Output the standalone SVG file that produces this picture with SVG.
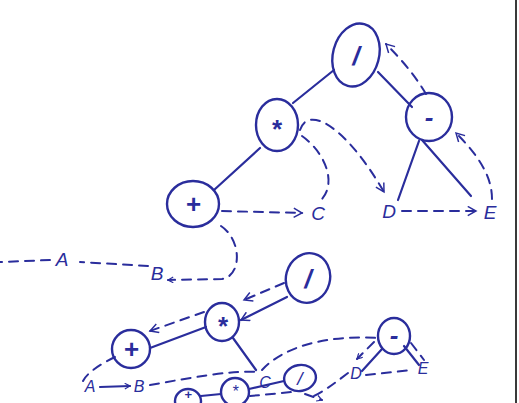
<svg xmlns="http://www.w3.org/2000/svg" width="519" height="403" viewBox="0 0 519 403">
<style>
.n{fill:none;stroke:#2a2d9c;stroke-width:2.4}
.s{fill:none;stroke:#2a2d9c;stroke-width:2.2;stroke-linecap:round}
.d{fill:none;stroke:#2a2d9c;stroke-width:2;stroke-dasharray:9 7;stroke-linecap:round}
.t{fill:#2a2d9c;font-family:"Liberation Sans",Arial,sans-serif;font-style:italic;text-anchor:middle}
.op{font-size:26px;font-weight:bold}
.lb{font-size:19px}
.lbs{font-size:16px}
.sm{font-size:13px;font-weight:bold}
</style>
<defs>
<marker id="ah" viewBox="0 0 12 12" refX="10" refY="6" markerWidth="7" markerHeight="7" markerUnits="userSpaceOnUse" orient="auto">
<polyline points="1,1 10,6 1,11" fill="none" stroke="#2a2d9c" stroke-width="2"/>
</marker>
<marker id="ahb" viewBox="0 0 12 12" refX="10" refY="6" markerWidth="11" markerHeight="11" markerUnits="userSpaceOnUse" orient="auto">
<polyline points="1,1 10,6 1,11" fill="none" stroke="#2a2d9c" stroke-width="1.6"/>
</marker>
</defs>
<rect width="519" height="403" fill="#ffffff"/>
<line x1="516" y1="0" x2="516" y2="403" stroke="#3a3a3a" stroke-width="2"/>

<g id="connectors">
<!-- top tree -->
<path class="d" d="M426 94 Q412 70 386 44" marker-end="url(#ahb)"/>
<path class="s" d="M378 72 L412 107"/>
<path class="s" d="M334 70 L293 103"/>
<path class="s" d="M260 148 L214 190"/>
<path class="d" d="M222 211 L302 213" marker-end="url(#ahb)"/>
<path class="d" d="M300 130 C308 105 345 125 384 192" marker-end="url(#ahb)"/>
<path class="d" d="M302 136 C322 150 338 180 322 199"/>
<path class="s" d="M419 141 L398 200"/>
<path class="s" d="M422 140 L471 196"/>
<path class="d" d="M402 211 L476 211" marker-end="url(#ahb)"/>
<path class="d" d="M492 199 C492 176 478 155 456 133" marker-end="url(#ahb)"/>
<path class="d" d="M221 226 C242 240 242 276 222 279 L168 280" marker-end="url(#ah)"/>
<path class="d" d="M148 266 L80 262"/>
<path class="d" d="M50 260 L0 262"/>
<!-- bottom tree -->
<path class="s" d="M287 297 L241 320" marker-end="url(#ahb)"/>
<path class="d" d="M284 283 L244 300" marker-end="url(#ahb)"/>
<path class="s" d="M206 327 L150 348"/>
<path class="d" d="M204 312 L150 331" marker-end="url(#ahb)"/>
<path class="d" d="M115 357 C100 364 86 374 83 381"/>
<path class="s" d="M100 387 L130 386" marker-end="url(#ah)"/>
<path class="d" d="M150 385 C190 378 230 370 258 372"/>
<path class="s" d="M233 338 L256 370"/>
<path class="d" d="M262 370 C285 345 330 335 378 338"/>
<path class="s" d="M382 349 L362 371"/>
<path class="d" d="M374 342 L357 359" marker-end="url(#ah)"/>
<path class="s" d="M404 346 L419 365"/>
<path class="d" d="M411 343 L424 360"/>
<path class="d" d="M366 375 L412 370"/>
<path class="d" d="M348 373 C336 382 326 390 314 396"/>
<path class="s" d="M201 396 L221 394"/>
<path class="s" d="M249 389 L284 381"/>
<path class="d" d="M250 396 L292 392"/>
<path class="d" d="M305 394 L322 400" marker-end="url(#ah)"/>
</g>

<g id="n_div1"><ellipse class="n" cx="356" cy="55" rx="23" ry="32" transform="rotate(15 356 55)"/><text class="t op" x="356" y="65">/</text></g>
<g id="n_minus1"><ellipse class="n" cx="429" cy="117" rx="23" ry="24"/><text class="t op" x="429" y="126">-</text></g>
<g id="n_mul1"><ellipse class="n" cx="277" cy="125" rx="21" ry="26"/><text class="t op" x="276" y="138">*</text></g>
<g id="n_plus1"><ellipse class="n" cx="193" cy="204" rx="26" ry="23"/><text class="t op" x="193" y="213">+</text></g>
<g id="n_C1"><text class="t lb" x="318" y="220">C</text></g>
<g id="n_D1"><text class="t lb" x="389" y="218">D</text></g>
<g id="n_E1"><text class="t lb" x="490" y="219">E</text></g>
<g id="n_A1"><text class="t lb" x="62" y="266">A</text></g>
<g id="n_B1"><text class="t lb" x="157" y="280">B</text></g>

<g id="n_div2"><ellipse class="n" cx="308" cy="278" rx="22" ry="25" transform="rotate(15 308 278)"/><text class="t op" x="308" y="288">/</text></g>
<g id="n_mul2"><ellipse class="n" cx="222" cy="322" rx="17" ry="19"/><text class="t op" x="222" y="335">*</text></g>
<g id="n_plus2"><ellipse class="n" cx="131" cy="349" rx="19" ry="19"/><text class="t op" x="131" y="358">+</text></g>
<g id="n_minus2"><ellipse class="n" cx="394" cy="336" rx="16" ry="18"/><text class="t op" x="394" y="344">-</text></g>
<g id="n_A2"><text class="t lbs" x="90" y="392">A</text></g>
<g id="n_B2"><text class="t lbs" x="139" y="392">B</text></g>
<g id="n_C2"><text class="t lbs" x="265" y="388">C</text></g>
<g id="n_D2"><text class="t lbs" x="356" y="379">D</text></g>
<g id="n_E2"><text class="t lbs" x="423" y="374">E</text></g>

<g id="n_plus3"><ellipse class="n" cx="188" cy="401" rx="13" ry="12"/><text class="t sm" x="188" y="399">+</text></g>
<g id="n_mul3"><ellipse class="n" cx="235" cy="392" rx="14" ry="14"/><text class="t lbs" x="235" y="397">*</text></g>
<g id="n_div3"><ellipse class="n" cx="300" cy="378" rx="16" ry="13" transform="rotate(-10 300 378)"/><text class="t lb" x="300" y="385">/</text></g>
</svg>
